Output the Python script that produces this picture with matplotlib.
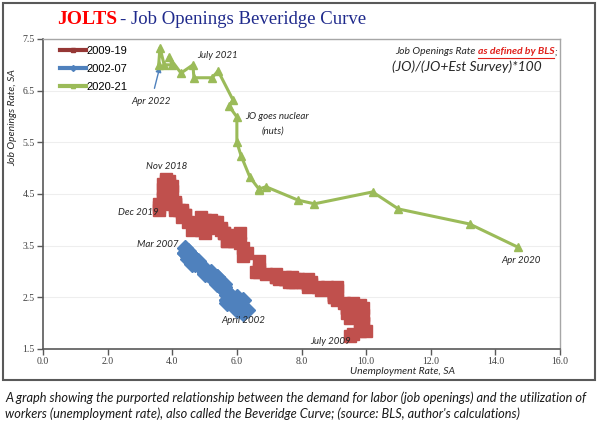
import matplotlib
matplotlib.use("Agg")
import matplotlib.pyplot as plt
from matplotlib.lines import Line2D
from matplotlib.patches import Rectangle

# 2009-19 (Jul 2009 .. Dec 2019), monthly
red_x = [9.5, 9.6, 9.8, 10.0, 9.9, 9.9,
         9.8, 9.8, 9.9, 9.9, 9.6, 9.4, 9.4, 9.5, 9.5, 9.4, 9.8, 9.3,
         9.1, 9.0, 9.0, 9.1, 9.0, 9.1, 9.0, 9.0, 9.0, 8.8, 8.6, 8.5,
         8.3, 8.3, 8.2, 8.2, 8.2, 8.2, 8.2, 8.1, 7.8, 7.8, 7.7, 7.9,
         8.0, 7.7, 7.5, 7.6, 7.5, 7.5, 7.3, 7.2, 7.2, 7.2, 6.9, 6.7,
         6.6, 6.7, 6.7, 6.2, 6.3, 6.1, 6.2, 6.1, 5.9, 5.7, 5.8, 5.6,
         5.7, 5.5, 5.5, 5.4, 5.6, 5.3, 5.2, 5.1, 5.0, 5.0, 5.0, 5.0,
         4.9, 4.9, 5.0, 5.0, 4.7, 4.9, 4.9, 4.9, 5.0, 4.9, 4.6, 4.7,
         4.7, 4.7, 4.5, 4.4, 4.3, 4.3, 4.3, 4.4, 4.2, 4.1, 4.1, 4.1,
         4.1, 4.1, 4.0, 3.9, 3.8, 4.0, 3.9, 3.8, 3.7, 3.8, 3.8, 3.9,
         4.0, 3.9, 3.9, 3.7, 3.7, 3.8, 3.8, 3.8, 3.6, 3.7, 3.6, 3.6]
red_y = [1.75, 1.8, 1.85, 1.85, 2.0, 2.0,
         2.05, 2.1, 2.15, 2.3, 2.4, 2.3, 2.2, 2.1, 2.2, 2.3, 2.35, 2.4,
         2.45, 2.55, 2.5, 2.65, 2.55, 2.7, 2.6, 2.5, 2.6, 2.7, 2.65, 2.7,
         2.8, 2.75, 2.85, 2.8, 2.75, 2.75, 2.7, 2.8, 2.8, 2.85, 2.8, 2.85,
         2.8, 2.9, 2.85, 2.8, 2.9, 2.85, 2.85, 2.9, 2.9, 2.95, 2.95, 3.0,
         3.0, 3.05, 3.2, 3.3, 3.35, 3.55, 3.45, 3.75, 3.6, 3.6, 3.7, 3.75,
         3.6, 3.85, 3.8, 3.95, 3.75, 3.95, 4.0, 3.85, 3.9, 4.0, 3.85, 3.9,
         3.95, 4.05, 3.95, 3.85, 3.9, 3.85, 3.95, 3.8, 3.75, 3.85, 3.8, 3.85,
         3.9, 3.85, 3.95, 4.1, 4.05, 4.15, 4.2, 4.1, 4.2, 4.25, 4.2, 4.3,
         4.3, 4.35, 4.3, 4.4, 4.45, 4.55, 4.5, 4.6, 4.7, 4.75, 4.8, 4.75,
         4.65, 4.6, 4.7, 4.6, 4.45, 4.5, 4.4, 4.5, 4.3, 4.4, 4.25, 4.2]

# 2002-07 (Apr 2002 .. Mar 2007), monthly
blue_x = [6.2, 6.0, 5.9, 5.8, 5.7, 5.7, 5.7, 5.9, 6.0,
          5.8, 5.9, 5.9, 6.0, 6.1, 6.3, 6.2, 6.1, 6.1, 6.0, 5.8, 5.7,
          5.7, 5.6, 5.8, 5.6, 5.6, 5.6, 5.5, 5.4, 5.4, 5.5, 5.4, 5.4,
          5.3, 5.4, 5.2, 5.2, 5.1, 5.0, 5.0, 4.9, 5.0, 5.0, 5.0, 4.9,
          4.7, 4.8, 4.7, 4.7, 4.6, 4.6, 4.7, 4.7, 4.5, 4.4, 4.5, 4.4,
          4.6, 4.5, 4.4]
blue_y = [2.45, 2.5, 2.45, 2.5, 2.45, 2.4, 2.45, 2.35, 2.3,
          2.45, 2.35, 2.35, 2.25, 2.3, 2.25, 2.2, 2.3, 2.35, 2.4, 2.5, 2.55,
          2.6, 2.65, 2.55, 2.7, 2.65, 2.75, 2.8, 2.75, 2.85, 2.75, 2.85, 2.9,
          2.85, 2.9, 3.0, 2.9, 2.95, 3.0, 3.0, 3.1, 3.0, 2.95, 3.05, 3.1,
          3.15, 3.2, 3.2, 3.25, 3.15, 3.3, 3.2, 3.25, 3.3, 3.35, 3.25, 3.35,
          3.3, 3.4, 3.45]

# 2020-21 (Apr 2020 .. Apr 2022), monthly
green_x = [14.7, 13.2, 11.0, 10.2, 8.4, 7.9, 6.9, 6.7, 6.7,
           6.4, 6.13, 6.0, 6.0, 5.76, 5.88,
           5.42, 5.23, 4.67, 4.64, 4.27, 3.9, 4.0, 3.75, 3.62, 3.58]
green_y = [3.47, 3.92, 4.21, 4.54, 4.31, 4.38, 4.64, 4.6, 4.58,
           4.83, 5.24, 5.5, 5.99, 6.2, 6.32,
           6.88, 6.75, 6.75, 7.0, 6.84, 7.15, 7.0, 7.0, 7.33, 7.0]

x_ticks = [0, 2, 4, 6, 8, 10, 12, 14, 16]
y_ticks = [1.5, 2.5, 3.5, 4.5, 5.5, 6.5, 7.5]

RED = "#C0504D"
BLUE = "#4F81BD"
GREEN = "#9BBB59"
W, H = 600, 426


def fx(px):
    return px / W


def fy(py):
    return 1 - py / H


fig = plt.figure(figsize=(6, 4.26), dpi=100)
fig.patches.append(Rectangle((fx(3), fy(380)), fx(592), 377 / H, transform=fig.transFigure,
                             fill=False, edgecolor="#595959", linewidth=1.5))

ax = fig.add_axes([fx(43), fy(349), fx(517), 310 / H])
ax.set_xlim(0, 16)
ax.set_ylim(1.5, 7.5)
ax.set_xticks(x_ticks)
ax.set_yticks(y_ticks)
ax.set_xticklabels([f"{v:.1f}" for v in x_ticks])
ax.set_yticklabels([f"{v:.1f}" for v in y_ticks])
ax.tick_params(direction="out", length=4, width=1, color="#595959", labelsize=7,
               labelcolor="#404040", pad=2)
for lab in ax.get_xticklabels() + ax.get_yticklabels():
    lab.set_family("Liberation Serif")
ax.grid(axis="y", color="#EEEEEE", linewidth=0.8)
ax.set_axisbelow(True)
for side in ["left", "bottom"]:
    ax.spines[side].set_color("#595959")
    ax.spines[side].set_linewidth(1.2)
for side in ["top", "right"]:
    ax.spines[side].set_color("#A6A6A6")
    ax.spines[side].set_linewidth(1.0)

# series
ax.plot(red_x, red_y, color="#953735", linewidth=1, marker="s", markersize=8.5,
        markerfacecolor=RED, markeredgecolor=RED, zorder=3)
ax.plot(blue_x, blue_y, color=BLUE, linewidth=1, marker="D", markersize=7.8,
        markerfacecolor=BLUE, markeredgecolor=BLUE, zorder=3)
ax.plot(green_x, green_y, color=GREEN, linewidth=2.2, marker="^", markersize=6,
        markerfacecolor=GREEN, markeredgecolor=GREEN, zorder=4)

handles = [Line2D([], [], color="#953735", linewidth=3, marker="s", markersize=3),
           Line2D([], [], color=BLUE, linewidth=3, marker="D", markersize=3),
           Line2D([], [], color=GREEN, linewidth=3, marker="^", markersize=3)]
ax.legend(handles, ["2009-19", "2002-07", "2020-21"], loc="upper left",
          bbox_to_anchor=(0.02, 1.0), frameon=False, handlelength=2.3,
          handletextpad=0.1, labelspacing=0.75, borderaxespad=0.2,
          prop={"family": "Liberation Sans", "size": 8})

# annotations
note = dict(fontsize=7, style="italic", color="#262626", family="Lato")
ax.text(5.4, 7.18, "July 2021", ha="center", va="center", **note)
ax.annotate("Apr 2022", xy=(3.62, 6.97), xytext=(3.35, 6.3), ha="center", va="center",
            arrowprops=dict(arrowstyle="-|>", color=BLUE, lw=1, mutation_scale=8,
                            shrinkA=4, shrinkB=0), **note)
ax.text(6.25, 6.0, "JO goes nuclear", ha="left", va="center", **note)
ax.text(7.1, 5.72, "(nuts)", ha="center", va="center", **note)
ax.text(3.84, 5.04, "Nov 2018", ha="center", va="center", **note)
ax.text(2.95, 4.15, "Dec 2019", ha="center", va="center", **note)
ax.text(3.55, 3.52, "Mar 2007", ha="center", va="center", **note)
ax.text(6.2, 2.05, "April 2002", ha="center", va="center", **note)
ax.text(8.9, 1.65, "July 2009", ha="center", va="center", **note)
ax.text(14.8, 3.22, "Apr 2020", ha="center", va="center", **note)

# title, red then blue
fig.canvas.draw()
renderer = fig.canvas.get_renderer()
t1 = fig.text(fx(57), fy(20), "JOLTS", color="#FF0000", fontsize=14, fontweight="bold",
              family="Liberation Serif", va="center", ha="left")
ext = t1.get_window_extent(renderer)
fig.text(ext.x1 / fig.bbox.width + 0.004, fy(20), "- Job Openings Beveridge Curve",
         color="#1F2A8C", fontsize=13.5, family="Liberation Serif", va="center", ha="left")

# BLS definition text
bls = dict(fontsize=7.5, style="italic", family="Lato", va="center", ha="left")
b1 = fig.text(fx(395), fy(52), "Job Openings Rate ", color="#262626", **bls)
e1 = b1.get_window_extent(renderer)
b2 = fig.text(e1.x1 / fig.bbox.width, fy(52), "as defined by BLS", color="#E0201B",
              fontweight="bold", **bls)
e2 = b2.get_window_extent(renderer)
fig.text(e2.x1 / fig.bbox.width, fy(52), ";", color="#262626", **bls)
fig.add_artist(Line2D([e2.x0 / fig.bbox.width, e2.x1 / fig.bbox.width],
                      [fy(57.5), fy(57.5)], color="#E0201B", linewidth=0.8,
                      transform=fig.transFigure))
fig.text(fx(467), fy(67), "(JO)/(JO+Est Survey)*100", color="#262626", fontsize=10,
         style="italic", family="Lato", va="center", ha="center")

# axis titles
fig.text(fx(13), fy(118), "Job Openings Rate, SA", rotation=90, fontsize=7.5,
         style="italic", family="Lato", color="#262626", va="center", ha="center")
fig.text(fx(402), fy(371), "Unemployment Rate, SA", fontsize=7.5, style="italic",
         family="Lato", color="#262626", va="center", ha="center")

# caption
cap = dict(fontsize=9.2, style="italic", family="Lato", color="#1A1A1A", va="center", ha="left")
fig.text(fx(5), fy(398), "A graph showing the purported relationship between the demand for labor "
         "(job openings) and the utilization of", **cap)
fig.text(fx(5), fy(414), "workers (unemployment rate), also called the Beveridge Curve; "
         "(source: BLS, author's calculations)", **cap)

fig.savefig("out.png", dpi=100)
